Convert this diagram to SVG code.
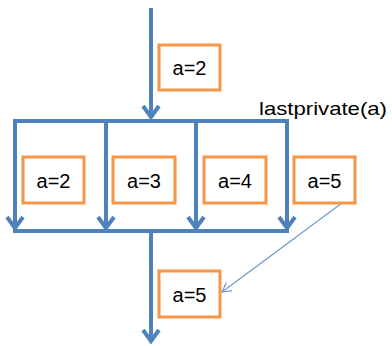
<svg xmlns="http://www.w3.org/2000/svg" width="392" height="346" viewBox="0 0 392 346">
  <defs>
    <style>
      .flow { fill: none; stroke: #4f81bd; stroke-width: 4; stroke-linecap: butt; }
      .thin { fill: none; stroke: #6f99cf; stroke-width: 1.2; }
      .box { fill: #ffffff; stroke: #f79646; stroke-width: 3; }
      .lbl { font-family: "Liberation Sans", Arial, sans-serif; font-size: 20px; fill: #000000; text-anchor: middle; }
      .note { font-family: "Liberation Sans", Arial, sans-serif; font-size: 19px; fill: #000000; }
    </style>
    <marker id="head" markerUnits="userSpaceOnUse" viewBox="-14 -10 16 20" refX="0" refY="0" markerWidth="16" markerHeight="20" orient="auto" overflow="visible">
      <path d="M-11,-8 L0,0 L-11,8" fill="none" stroke="#4f81bd" stroke-width="4" stroke-linejoin="miter"/>
    </marker>
    <marker id="thinhead" markerUnits="userSpaceOnUse" viewBox="-10 -6 12 12" refX="0" refY="0" markerWidth="12" markerHeight="12" orient="auto" overflow="visible">
      <path d="M-9,-5 L0,0 L-9,5" fill="none" stroke="#6f99cf" stroke-width="1.2"/>
    </marker>
  </defs>

  <!-- connectors: fork/join bars and flow arrows -->
  <g id="connectors">
    <line class="flow" x1="151" y1="8" x2="151" y2="117" marker-end="url(#head)"/>
    <line class="flow" x1="13" y1="121" x2="289" y2="121"/>
    <line class="flow" x1="15" y1="121" x2="15" y2="228" marker-end="url(#head)"/>
    <line class="flow" x1="106" y1="121" x2="106" y2="228" marker-end="url(#head)"/>
    <line class="flow" x1="196" y1="121" x2="196" y2="228" marker-end="url(#head)"/>
    <line class="flow" x1="287" y1="121" x2="287" y2="228" marker-end="url(#head)"/>
    <line class="flow" x1="13" y1="231" x2="289" y2="231"/>
    <line class="flow" x1="151" y1="231" x2="151" y2="341" marker-end="url(#head)"/>
    <line class="thin" x1="342" y1="203" x2="222" y2="292" marker-end="url(#thinhead)"/>
  </g>

  <text class="note" x="259" y="115" textLength="128" lengthAdjust="spacingAndGlyphs">lastprivate(a)</text>

  <g id="init">
    <rect class="box" x="159" y="45" width="61" height="45"/>
    <text class="lbl" x="189.5" y="75">a=2</text>
  </g>
  <g id="thread0">
    <rect class="box" x="23" y="157" width="61" height="46"/>
    <text class="lbl" x="53.5" y="188">a=2</text>
  </g>
  <g id="thread1">
    <rect class="box" x="113" y="157" width="62" height="46"/>
    <text class="lbl" x="144" y="188">a=3</text>
  </g>
  <g id="thread2">
    <rect class="box" x="204" y="157" width="62" height="46"/>
    <text class="lbl" x="235" y="188">a=4</text>
  </g>
  <g id="thread3">
    <rect class="box" x="294" y="157" width="61" height="46"/>
    <text class="lbl" x="324.5" y="188">a=5</text>
  </g>
  <g id="result">
    <rect class="box" x="159" y="271" width="61" height="46"/>
    <text class="lbl" x="189.5" y="302">a=5</text>
  </g>
</svg>
